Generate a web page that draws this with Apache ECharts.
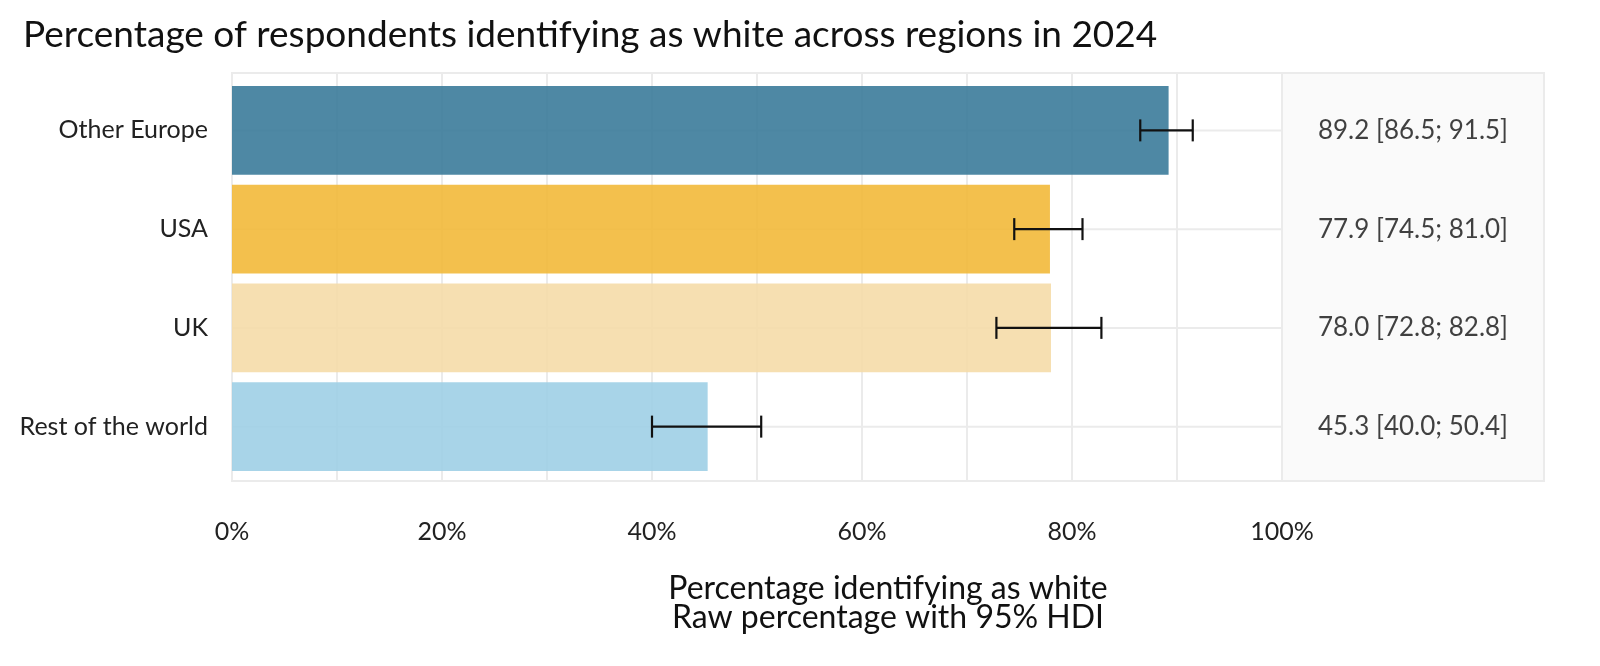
<!DOCTYPE html>
<html>
<head>
<meta charset="utf-8">
<script src="https://cdn.jsdelivr.net/npm/echarts@6/dist/echarts.min.js"></script>
<style>
  html, body { margin: 0; padding: 0; background: #fff; }
  #main { width: 1600px; height: 666px; }
</style>
</head>
<body>
<div id="main"></div>
<script>
// Data
const regions = ['Other Europe', 'USA', 'UK', 'Rest of the world'];
const pctWhite = [89.2, 77.9, 78.0, 45.3];
const hdiLow = [86.5, 74.5, 72.8, 40.0];
const hdiHigh = [91.5, 81.0, 82.8, 50.4];
const xTitleLines = ['Percentage identifying as white', 'Raw percentage with 95% HDI'];
const barColors = ['#3b7b9a', '#f2b93a', '#f5dca8', '#9ecfe5'];

const FONT = 'Lato';
const myChart = echarts.init(document.getElementById('main'));

const panelLabels = regions.map((r, i) =>
  pctWhite[i].toFixed(1) + ' [' + hdiLow[i].toFixed(1) + '; ' + hdiHigh[i].toFixed(1) + ']');

// layout: frame is a bit taller than the band area (ggplot style expansion)
const L = 232, W = 1050, PW = 262;
const frameTop = 73, frameH = 408;
const bandTop = 81, bandH = 395;

const option = {
  backgroundColor: '#ffffff',
  textStyle: { fontFamily: FONT },
  title: {
    text: 'Percentage of respondents identifying as white across regions in 2024',
    left: 18,
    top: 12,
    textStyle: { fontFamily: FONT, fontSize: 37, fontWeight: 'normal', color: '#111' }
  },
  graphic: xTitleLines.map((t, i) => ({
    type: 'text',
    x: L + (W + PW) / 2,
    y: 589 + i * 29,
    style: {
      text: t,
      font: '32px ' + FONT,
      fill: '#111',
      textAlign: 'center',
      textVerticalAlign: 'middle'
    }
  })),
  grid: [
    // 0: bars
    { left: L, top: bandTop, width: W, height: bandH, show: false },
    // 1: frame with gridlines
    { left: L, top: frameTop, width: W, height: frameH, show: true,
      borderColor: '#ebebeb', borderWidth: 2, backgroundColor: 'transparent' },
    // 2: right panel background
    { left: L + W, top: frameTop, width: PW, height: frameH, show: true,
      borderColor: '#ebebeb', borderWidth: 2, backgroundColor: '#fafafa' },
    // 3: right panel text
    { left: L + W, top: bandTop, width: PW, height: bandH, show: false }
  ],
  xAxis: [
    { gridIndex: 0, type: 'value', min: 0, max: 100, show: false },
    {
      gridIndex: 1, type: 'value', min: 0, max: 100, interval: 20,
      axisLine: { show: false }, axisTick: { show: false },
      axisLabel: { formatter: '{value}%', fontSize: 25, color: '#222', margin: 38, fontFamily: FONT },
      splitLine: { show: true, lineStyle: { color: '#ebebeb', width: 2 } },
      minorTick: { show: false, splitNumber: 2 },
      minorSplitLine: { show: true, lineStyle: { color: '#ebebeb', width: 2 } }
    },
    { gridIndex: 2, type: 'value', min: 0, max: 1, show: false },
    { gridIndex: 3, type: 'value', min: 0, max: 1, show: false }
  ],
  yAxis: [
    {
      gridIndex: 0, type: 'category', data: regions, inverse: true,
      axisLine: { show: false }, axisTick: { show: false },
      splitLine: { show: false },
      axisLabel: { fontSize: 25, color: '#222', margin: 24, fontFamily: FONT }
    },
    { gridIndex: 1, type: 'value', min: 0, max: 1, show: false },
    { gridIndex: 2, type: 'value', min: 0, max: 1, show: false },
    { gridIndex: 3, type: 'category', data: regions, inverse: true, show: false }
  ],
  series: [
    {
      // horizontal grid lines at row centres
      type: 'custom',
      xAxisIndex: 0, yAxisIndex: 0,
      z: 1, silent: true,
      data: regions.map((r, i) => [i]),
      renderItem: function (params, api) {
        const y = api.coord([0, api.value(0)])[1];
        const cs = params.coordSys;
        return {
          type: 'line',
          shape: { x1: cs.x, y1: y, x2: cs.x + cs.width, y2: y },
          style: { stroke: '#ebebeb', lineWidth: 2 }
        };
      }
    },
    {
      type: 'bar',
      xAxisIndex: 0, yAxisIndex: 0,
      z: 2,
      barWidth: '90%',
      data: pctWhite.map((v, i) => ({
        value: v,
        itemStyle: { color: barColors[i], opacity: 0.9 }
      }))
    },
    {
      // error bars (95% HDI)
      type: 'custom',
      xAxisIndex: 0, yAxisIndex: 0,
      z: 3,
      data: regions.map((r, i) => [i, hdiLow[i], hdiHigh[i]]),
      renderItem: function (params, api) {
        const idx = api.value(0);
        const p1 = api.coord([api.value(1), idx]);
        const p2 = api.coord([api.value(2), idx]);
        const cap = 11;
        const st = { stroke: '#111', lineWidth: 2.2 };
        return {
          type: 'group',
          children: [
            { type: 'line', shape: { x1: p1[0], y1: p1[1], x2: p2[0], y2: p2[1] }, style: st },
            { type: 'line', shape: { x1: p1[0], y1: p1[1] - cap, x2: p1[0], y2: p1[1] + cap }, style: st },
            { type: 'line', shape: { x1: p2[0], y1: p2[1] - cap, x2: p2[0], y2: p2[1] + cap }, style: st }
          ]
        };
      }
    },
    {
      // text panel on the right
      type: 'scatter',
      xAxisIndex: 3, yAxisIndex: 3,
      symbolSize: 0,
      data: regions.map((r, i) => [0.5, r]),
      label: {
        show: true,
        position: 'inside',
        fontSize: 26,
        color: '#111',
        fontFamily: FONT,
        formatter: function (p) { return panelLabels[p.dataIndex]; }
      }
    }
  ]
};

myChart.setOption(option);
</script>
</body>
</html>
